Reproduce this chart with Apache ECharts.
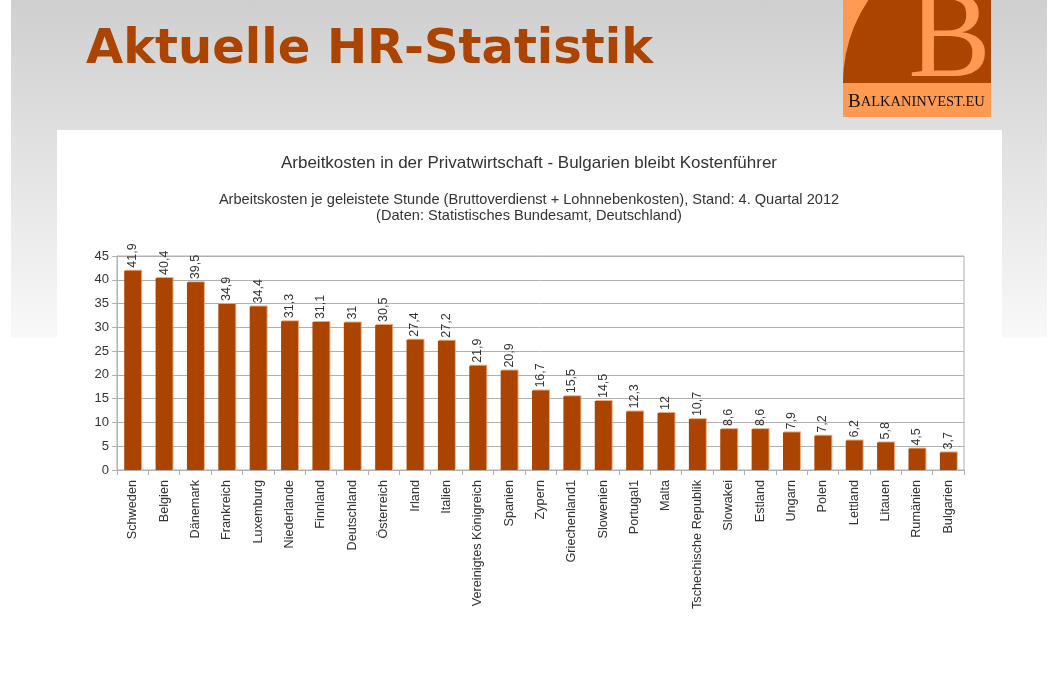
<!DOCTYPE html>
<html>
<head>
<meta charset="utf-8">
<script src="https://cdn.jsdelivr.net/npm/echarts@6/dist/echarts.min.js"></script>
<style>
  html, body { margin: 0; padding: 0; background: #ffffff; }
  #stage { position: relative; width: 1058px; height: 675px; overflow: hidden; }
  #band { position: absolute; left: 11px; top: 0; width: 1036px; height: 338px;
          background: linear-gradient(#cfcfcf, #f9f9f9); }
  #card { position: absolute; left: 57px; top: 130px; width: 945px; height: 545px; background: #ffffff; }
  #chart { position: absolute; left: 0; top: 0; width: 1058px; height: 675px; }
</style>
</head>
<body>
<div id="stage">
  <div id="band"></div>
  <div id="card"></div>
  <div id="chart"></div>
</div>
<script>
  // values
  const countries = [
    'Schweden', 'Belgien', 'Dänemark', 'Frankreich', 'Luxemburg', 'Niederlande',
    'Finnland', 'Deutschland', 'Österreich', 'Irland', 'Italien', 'Vereinigtes Königreich',
    'Spanien', 'Zypern', 'Griechenland1', 'Slowenien', 'Portugal1', 'Malta',
    'Tschechische Republik', 'Slowakei', 'Estland', 'Ungarn', 'Polen', 'Lettland',
    'Litauen', 'Rumänien', 'Bulgarien'
  ];
  const costPerHour = [
    41.9, 40.4, 39.5, 34.9, 34.4, 31.3,
    31.1, 31, 30.5, 27.4, 27.2, 21.9,
    20.9, 16.7, 15.5, 14.5, 12.3, 12,
    10.7, 8.6, 8.6, 7.9, 7.2, 6.2,
    5.8, 4.5, 3.7
  ];
  const yTicks = [0, 5, 10, 15, 20, 25, 30, 35, 40, 45];

  const pageTitle = 'Aktuelle HR-Statistik';
  const chartTitle = 'Arbeitkosten in der Privatwirtschaft - Bulgarien bleibt Kostenführer';
  const subtitleLines = [
    'Arbeitskosten je geleistete Stunde (Bruttoverdienst + Lohnnebenkosten), Stand: 4. Quartal 2012',
    '(Daten: Statistisches Bundesamt, Deutschland)'
  ];

  const brown = '#aa4400';
  const peach = '#ff9a52';
  const axisGray = '#b0b0b0';
  const textGray = '#333333';
  const sans = '"Liberation Sans", Arial, sans-serif';
  const serif = '"Liberation Serif", "DejaVu Serif", serif';

  const chart = echarts.init(document.getElementById('chart'), null, { renderer: 'canvas' });

  const titles = [
    {
      text: chartTitle,
      left: 'center',
      top: 150,
      textStyle: { fontFamily: sans, fontSize: 17, fontWeight: 'normal', color: textGray }
    }
  ].concat(subtitleLines.map(function (line, i) {
    return {
      text: line,
      left: 'center',
      top: 187 + i * 16,
      textStyle: { fontFamily: sans, fontSize: 14.6, fontWeight: 'normal', color: textGray }
    };
  }));

  chart.setOption({
    animation: false,
    backgroundColor: 'transparent',
    title: titles,
    grid: {
      left: 117,
      right: 94,
      top: 256,
      bottom: 205,
      show: true,
      borderColor: axisGray,
      borderWidth: 1
    },
    xAxis: {
      type: 'category',
      data: countries,
      axisLine: { lineStyle: { color: axisGray } },
      axisTick: { show: true, length: 5, lineStyle: { color: axisGray } },
      axisLabel: {
        rotate: 90,
        interval: 0,
        margin: 10,
        fontFamily: sans,
        fontSize: 12.7,
        color: textGray
      },
      splitLine: { show: false }
    },
    yAxis: {
      type: 'value',
      min: yTicks[0],
      max: yTicks[yTicks.length - 1],
      interval: yTicks[1] - yTicks[0],
      axisLine: { show: true, lineStyle: { color: axisGray } },
      axisTick: { show: true, length: 5, lineStyle: { color: axisGray } },
      axisLabel: { fontFamily: sans, fontSize: 13, color: textGray, margin: 8 },
      splitLine: { lineStyle: { color: axisGray, width: 1 } }
    },
    series: [
      {
        type: 'bar',
        data: costPerHour,
        barWidth: '54%',
        itemStyle: {
          color: brown,
          shadowColor: 'rgba(236, 160, 110, 0.9)',
          shadowBlur: 0,
          shadowOffsetX: 1,
          shadowOffsetY: -1
        },
        label: {
          show: true,
          position: 'top',
          rotate: 90,
          align: 'left',
          verticalAlign: 'middle',
          distance: 3,
          fontFamily: sans,
          fontSize: 12.5,
          color: textGray,
          formatter: function (p) { return String(p.value).replace('.', ','); }
        }
      }
    ],
    graphic: [
      {
        type: 'text',
        x: 86,
        y: 27,
        style: {
          text: pageTitle,
          fill: brown,
          font: 'bold 48px "DejaVu Sans", sans-serif',
          verticalAlign: 'top'
        }
      },
      {
        type: 'group',
        x: 843,
        y: 0,
        children: [
          { type: 'rect', shape: { x: 0, y: 0, width: 148, height: 117 }, style: { fill: peach } },
          {
            type: 'sector',
            shape: { cx: 148, cy: 83, r0: 0, r: 148, startAngle: Math.PI, endAngle: Math.PI * 1.5 },
            style: { fill: brown }
          },
          {
            type: 'text',
            x: 148,
            y: -19,
            style: {
              text: 'B',
              fill: peach,
              font: '124px ' + serif,
              align: 'right',
              verticalAlign: 'top'
            }
          },
          {
            type: 'text',
            x: 5,
            y: 112,
            style: {
              rich: {
                big: { fontFamily: serif, fontSize: 19, fill: '#111111' },
                small: { fontFamily: serif, fontSize: 14.5, fill: '#111111' }
              },
              text: '{big|B}{small|ALKANINVEST.EU}',
              verticalAlign: 'bottom'
            }
          }
        ]
      }
    ]
  });
</script>
</body>
</html>
